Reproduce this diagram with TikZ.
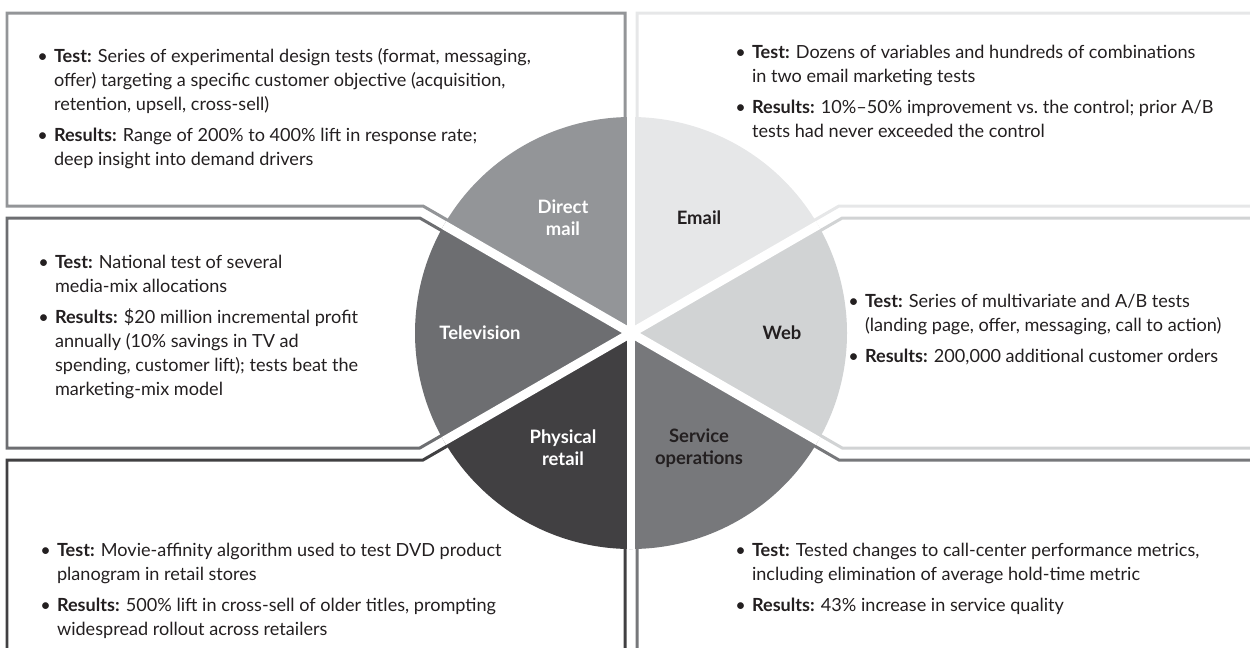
\documentclass[tikz,border=0pt]{standalone}
\usepackage{fontspec}
\setmainfont{Lato}
\usetikzlibrary{calc}

\definecolor{dmgray}{HTML}{939598}
\definecolor{emgray}{HTML}{E6E7E8}
\definecolor{tvgray}{HTML}{6D6E71}
\definecolor{webgray}{HTML}{D1D3D4}
\definecolor{prgray}{HTML}{414042}
\definecolor{sogray}{HTML}{77787B}
\definecolor{inkgray}{HTML}{231F20}

\newcommand{\bpt}{\makebox[9.5pt][l]{\textbullet}}
\newcommand{\cont}{\\\hspace*{9.5pt}}

\tikzset{
  frame/.style={line width=1.7pt, line join=miter},
  blurb/.style={anchor=north west, align=left, inner sep=0pt,
    font=\fontsize{10.3}{13.6}\selectfont, text=inkgray},
  slicelabel/.style={align=center, font=\fontsize{10.5}{12.5}\selectfont\bfseries},
  gap/.style={white, line width=5.1pt}
}

\begin{document}
\begin{tikzpicture}[x=0.02cm, y=-0.02cm]
\useasboundingbox (0,0) rectangle (1250,647);
\clip (0,0) rectangle (1250,647);

\coordinate (C) at (631,333);

% frames of the six channels, each running into the pie
\draw[frame, dmgray] (7,13) -- (625,13) -- (625,322.6) -- (423,206) -- (7,206) -- cycle;
\draw[frame, tvgray] (7,218) -- (419.8,218) -- (619,333) -- (419.8,448) -- (7,448) -- cycle;
\draw[frame, prgray] (7,700) -- (7,460) -- (423,460) -- (625,343.4) -- (625,700);
\draw[frame, emgray] (1300,13) -- (637,13) -- (637,322.6) -- (839,206) -- (1300,206);
\draw[frame, webgray] (1300,218) -- (842.2,218) -- (643,333) -- (842.2,448) -- (1300,448);
\draw[frame, sogray] (637,700) -- (637,343.4) -- (839,460) -- (1300,460);

\foreach \a/\col in {210/dmgray, 270/emgray, 330/webgray, 30/sogray, 90/prgray, 150/tvgray}
  \fill[\col] (C) -- ++(\a:216) arc[start angle=\a, end angle=\a+60, radius=216] -- cycle;
\foreach \a in {30,90,...,330}
  \draw[gap] (C) -- ++(\a:216);

\node[slicelabel, white] (dm) at ($(C)+(-68,-115)$) {Direct\\mail};
\node[slicelabel, inkgray] (em) at ($(C)+(68,-115)$) {Email};
\node[slicelabel, white] (tv) at ($(C)+(-151,0)$) {Television};
\node[slicelabel, inkgray] (web) at ($(C)+(151,0)$) {Web};
\node[slicelabel, white] (pr) at ($(C)+(-68,115)$) {Physical\\retail};
\node[slicelabel, inkgray] (so) at ($(C)+(68,115)$) {Service\\operations};

\node[blurb] (dmtext) at (37,48) {\bpt\textbf{Test:} Series of experimental design tests (format, messaging,\cont offer) targeting a specific customer objective (acquisition,\cont retention, upsell, cross-sell)\\[4pt]\bpt\textbf{Results:} Range of 200\% to 400\% lift in response rate;\cont deep insight into demand drivers};
\node[blurb] (emtext) at (735,45) {\bpt\textbf{Test:} Dozens of variables and hundreds of combinations\cont in two email marketing tests\\[4pt]\bpt\textbf{Results:} 10\%--50\% improvement vs.\ the control; prior A/B\cont tests had never exceeded the control};
\node[blurb] (tvtext) at (38,255) {\bpt\textbf{Test:} National test of several\cont media-mix allocations\\[4pt]\bpt\textbf{Results:} \$20 million incremental profit\cont annually (10\% savings in TV ad\cont spending, customer lift); tests beat the\cont marketing-mix model};
\node[blurb] (webtext) at (848,294) {\bpt\textbf{Test:} Series of multivariate and A/B tests\cont (landing page, offer, messaging, call to action)\\[4pt]\bpt\textbf{Results:} 200,000 additional customer orders};
\node[blurb] (prtext) at (40,543) {\bpt\textbf{Test:} Movie-affinity algorithm used to test DVD product\cont planogram in retail stores\\[4pt]\bpt\textbf{Results:} 500\% lift in cross-sell of older titles, prompting\cont widespread rollout across retailers};
\node[blurb] (sotext) at (735,543) {\bpt\textbf{Test:} Tested changes to call-center performance metrics,\cont including elimination of average hold-time metric\\[4pt]\bpt\textbf{Results:} 43\% increase in service quality};
\end{tikzpicture}
\end{document}
